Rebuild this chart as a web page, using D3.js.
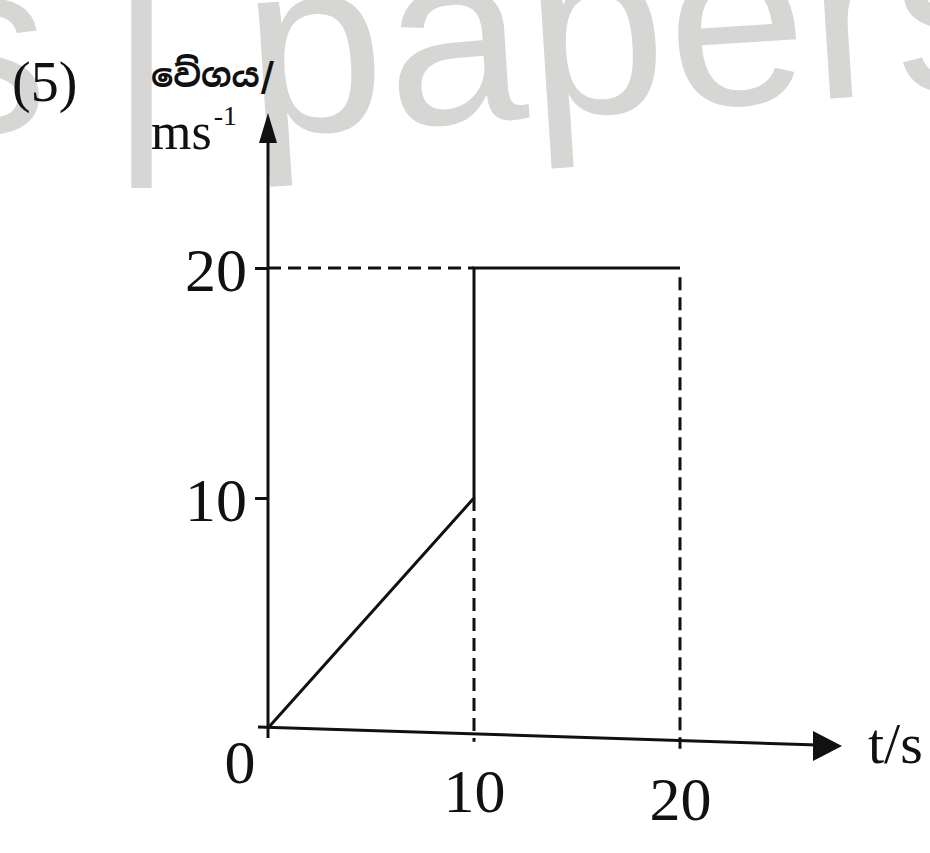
<!DOCTYPE html>
<html>
<head>
<meta charset="utf-8">
<script src="https://cdn.jsdelivr.net/npm/d3@7"></script>
<style>
  body { margin: 0; background: #fff; }
  svg { display: block; }
</style>
</head>
<body>
<svg id="chart"></svg>
<script>
const WIDTH = 930;
const HEIGHT = 853;

// velocity-time graph
const times = [0, 10, 10, 20];
const velocities = [0, 10, 20, 20];
const xTicks = [10, 20];
const yTicks = [10, 20];
const yLabel = 'වේගය/';
const yUnit = 'ms';
const xLabel = 't/s';
const questionNo = '(5)';

const svg = d3.select('#chart')
	.attr('width', WIDTH)
	.attr('height', HEIGHT);

const x = d3.scaleLinear().domain([0, 20]).range([268, 680]);
const y = d3.scaleLinear().domain([0, 20]).range([728, 268]);

// watermark from the scan
const wm = svg.append('g')
	.attr('fill', '#d6d6d4')
	.attr('font-family', 'Liberation Sans, Arial, sans-serif')
	.attr('font-size', 250);
wm.append('text').attr('x', -77).attr('y', 133).text('s');
wm.append('text').attr('x', 109).attr('y', 135).text('|');
wm.append('text')
	.attr('transform', 'translate(250,136) rotate(-3.7)')
	.attr('letter-spacing', 2)
	.text('papers');

const serif = 'Liberation Serif, Times New Roman, serif';
const ink = '#111';

// axes
svg.append('line')
	.attr('x1', x(0)).attr('x2', x(0))
	.attr('y1', y(0) + 10).attr('y2', 138)
	.attr('stroke', ink).attr('stroke-width', 3);
svg.append('path')
	.attr('d', `M${x(0)},113 L${x(0) - 9},143 L${x(0) + 9},143 Z`)
	.attr('fill', ink);

svg.append('line')
	.attr('x1', x(0) - 10).attr('x2', 818)
	.attr('y1', y(0) - 1).attr('y2', y(0) + 17)
	.attr('stroke', ink).attr('stroke-width', 3);
svg.append('path')
	.attr('d', `M842,${y(0) + 18} L813,${y(0) + 3} L813,${y(0) + 33} Z`)
	.attr('fill', ink);

// y ticks
const yAxis = d3.axisLeft(y).tickValues(yTicks).tickSize(13).tickPadding(8);
const yg = svg.append('g').attr('transform', `translate(${x(0)},0)`).call(yAxis);
yg.select('.domain').remove();
yg.selectAll('.tick line').attr('stroke', ink).attr('stroke-width', 3);
yg.selectAll('.tick text')
	.attr('font-family', serif).attr('font-size', 62).attr('fill', ink)
	.attr('dy', '0.36em');

// x ticks (labels only, the dashed lines mark the positions)
const xAxis = d3.axisBottom(x).tickValues(xTicks).tickSize(0).tickPadding(0);
const xg = svg.append('g').attr('transform', `translate(0,${y(0)})`).call(xAxis);
xg.select('.domain').remove();
xg.selectAll('.tick text')
	.attr('font-family', serif).attr('font-size', 62).attr('fill', ink)
	.attr('dy', (d, i) => 84 + i * 8);

svg.append('text')
	.attr('x', 240).attr('y', 783)
	.attr('text-anchor', 'middle')
	.attr('font-family', serif).attr('font-size', 62).attr('fill', ink)
	.text('0');

// dashed guides
const dashed = [
	[[0, 20], [10, 20]],
	[[10, 10], [10, -0.6]],
	[[20, 19.6], [20, -0.9]]
];
svg.append('g').selectAll('line')
	.data(dashed)
	.join('line')
	.attr('x1', d => x(d[0][0])).attr('y1', d => y(d[0][1]))
	.attr('x2', d => x(d[1][0])).attr('y2', d => y(d[1][1]))
	.attr('stroke', ink)
	.attr('stroke-width', 3)
	.attr('stroke-dasharray', '13,7');

// velocity line
const line = d3.line().x(d => x(d[0])).y(d => y(d[1]));
svg.append('path')
	.datum(times.map((t, i) => [t, velocities[i]]))
	.attr('d', line)
	.attr('fill', 'none')
	.attr('stroke', ink)
	.attr('stroke-width', 3);

// labels
svg.append('text')
	.attr('x', 12).attr('y', 101)
	.attr('font-family', serif).attr('font-size', 56).attr('fill', ink)
	.text(questionNo);

svg.append('text')
	.attr('x', 151).attr('y', 87)
	.attr('font-family', 'Noto Sans Sinhala, Noto Serif Sinhala, sans-serif')
	.attr('font-size', 33).attr('font-weight', 'bold').attr('fill', ink)
	.text(yLabel);

const unit = svg.append('text')
	.attr('x', 151).attr('y', 149)
	.attr('font-family', serif).attr('font-size', 52).attr('fill', ink)
	.text(yUnit);
unit.append('tspan')
	.attr('font-size', 28).attr('dy', -24).attr('dx', 2)
	.text('-1');

svg.append('text')
	.attr('x', 868).attr('y', 763)
	.attr('font-family', serif).attr('font-size', 58).attr('fill', ink)
	.text(xLabel);
</script>
</body>
</html>
